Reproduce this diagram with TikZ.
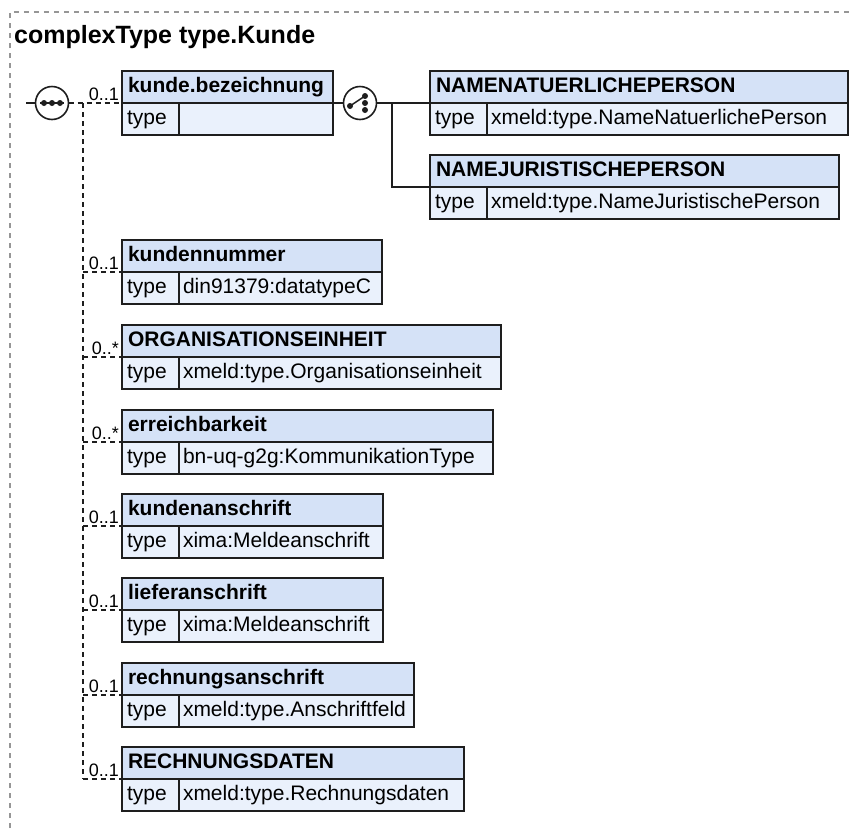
\documentclass[tikz,border=0pt]{standalone}
\usepackage{fontspec}
\setmainfont{Liberation Sans}
\usepackage{tikz}
\definecolor{xsdhead}{RGB}{213,226,247}
\definecolor{xsdrow}{RGB}{234,241,252}
\definecolor{xsdline}{RGB}{30,30,30}
\definecolor{framegray}{RGB}{150,150,150}
\newcommand{\elemfont}{\fontsize{21}{24}\selectfont}
\newcommand{\multfont}{\fontsize{18}{20}\selectfont}
\newcommand{\titlefont}{\fontsize{25}{28}\selectfont\bfseries}
\tikzset{
  cell/.style={rectangle, draw=xsdline, line width=1.6pt, anchor=north west,
    minimum height=32pt, inner ysep=0pt, outer sep=0pt, align=left,
    text height=15pt, text depth=4pt},
  elemhead/.style={cell, fill=xsdhead, inner xsep=6pt, font=\elemfont\bfseries},
  elemtype/.style={cell, fill=xsdrow, inner xsep=5pt, text width=47pt, font=\elemfont},
  elemvalue/.style={cell, fill=xsdrow, inner xsep=4pt, font=\elemfont},
  compositor/.style={circle, draw=xsdline, line width=1.6pt, fill=white,
    minimum size=33pt, inner sep=0pt, outer sep=0pt},
  mult/.style={anchor=base east, inner sep=0pt, font=\multfont},
  seqline/.style={draw=xsdline, line width=1.3pt, dash pattern=on 5pt off 4pt},
  choiceline/.style={draw=xsdline, line width=1.4pt},
  frameline/.style={draw=framegray, line width=1.2pt, dash pattern=on 5pt off 5pt},
}
\begin{document}
\begin{tikzpicture}[x=1pt, y=-1pt]
  \useasboundingbox (0,0) rectangle (853,828);

  %% frame and title
  \draw[frameline] (10,828) -- (10,12) -- (853,12);
  \node[anchor=base west, inner sep=0pt, font=\titlefont] (title) at (14,43)
    {complexType type.Kunde};

  %% sequence
  \coordinate (entry) at (26,103);
  \coordinate (spine) at (83,103);
  \node[compositor] (seq) at (52,103) {};
  \draw[line width=1.5pt, xsdline] ([xshift=-12pt]seq.center) -- ([xshift=12pt]seq.center);
  \fill[xsdline] ([xshift=-8pt]seq.center) circle (3pt) (seq.center) circle (3pt)
    ([xshift=8pt]seq.center) circle (3pt);
  \draw[choiceline] (entry) -- (seq.west);

  %% kunde.bezeichnung
  \node[elemhead, text width=199pt] (kbez) at (122,71) {kunde.bezeichnung};
  \node[elemtype] (kbezt) at (kbez.south west) {type};
  \node[elemvalue, text width=146pt] (kbezv) at (kbezt.north east) {};
  \node[mult] (kbezm) at ([shift={(-3,-3)}]kbez.south west) {0..1};

  %% choice
  \coordinate (fork) at (392,103);
  \node[compositor] (choice) at (360,103) {};
  \draw[line width=1.5pt, xsdline] ([shift={(-10,3)}]choice.center)
    -- ([shift={(5,-7)}]choice.center);
  \fill[xsdline] ([shift={(-10,3)}]choice.center) circle (3pt)
    ([shift={(5,-7)}]choice.center) circle (3pt)
    ([shift={(5,0)}]choice.center) circle (3pt)
    ([shift={(5,7)}]choice.center) circle (3pt);

  \node[elemhead, text width=406pt] (nnat) at (430,71) {NAMENATUERLICHEPERSON};
  \node[elemtype] (nnatt) at (nnat.south west) {type};
  \node[elemvalue, text width=353pt] (nnatv) at (nnatt.north east)
    {xmeld:type.NameNatuerlichePerson};

  \node[elemhead, text width=397pt] (njur) at (430,155) {NAMEJURISTISCHEPERSON};
  \node[elemtype] (njurt) at (njur.south west) {type};
  \node[elemvalue, text width=344pt] (njurv) at (njurt.north east)
    {xmeld:type.NameJuristischePerson};

  \draw[choiceline] (kbez.south east) -- (choice.west);
  \draw[choiceline] (choice.east) -- (nnat.south west);
  \draw[choiceline] (fork) |- (njur.south west);

  %% kundennummer
  \node[elemhead, text width=248pt] (knr) at (122,240) {kundennummer};
  \node[elemtype] (knrt) at (knr.south west) {type};
  \node[elemvalue, text width=195pt] (knrv) at (knrt.north east) {din91379:datatypeC};
  \node[mult] (knrm) at ([shift={(-3,-3)}]knr.south west) {0..1};

  %% ORGANISATIONSEINHEIT
  \node[elemhead, text width=367pt] (orga) at (122,325) {ORGANISATIONSEINHEIT};
  \node[elemtype] (orgat) at (orga.south west) {type};
  \node[elemvalue, text width=314pt] (orgav) at (orgat.north east)
    {xmeld:type.Organisationseinheit};
  \node[mult] (orgam) at ([shift={(-3,-3)}]orga.south west) {0..*};

  %% erreichbarkeit
  \node[elemhead, text width=359pt] (erre) at (122,410) {erreichbarkeit};
  \node[elemtype] (erret) at (erre.south west) {type};
  \node[elemvalue, text width=306pt] (errev) at (erret.north east)
    {bn-uq-g2g:KommunikationType};
  \node[mult] (errem) at ([shift={(-3,-3)}]erre.south west) {0..*};

  %% kundenanschrift
  \node[elemhead, text width=249pt] (kans) at (122,494) {kundenanschrift};
  \node[elemtype] (kanst) at (kans.south west) {type};
  \node[elemvalue, text width=196pt] (kansv) at (kanst.north east) {xima:Meldeanschrift};
  \node[mult] (kansm) at ([shift={(-3,-3)}]kans.south west) {0..1};

  %% lieferanschrift
  \node[elemhead, text width=249pt] (lans) at (122,578) {lieferanschrift};
  \node[elemtype] (lanst) at (lans.south west) {type};
  \node[elemvalue, text width=196pt] (lansv) at (lanst.north east) {xima:Meldeanschrift};
  \node[mult] (lansm) at ([shift={(-3,-3)}]lans.south west) {0..1};

  %% rechnungsanschrift
  \node[elemhead, text width=280pt] (rans) at (122,663) {rechnungsanschrift};
  \node[elemtype] (ranst) at (rans.south west) {type};
  \node[elemvalue, text width=227pt] (ransv) at (ranst.north east)
    {xmeld:type.Anschriftfeld};
  \node[mult] (ransm) at ([shift={(-3,-3)}]rans.south west) {0..1};

  %% RECHNUNGSDATEN
  \node[elemhead, text width=330pt] (rdat) at (122,747) {RECHNUNGSDATEN};
  \node[elemtype] (rdatt) at (rdat.south west) {type};
  \node[elemvalue, text width=277pt] (rdatv) at (rdatt.north east)
    {xmeld:type.Rechnungsdaten};
  \node[mult] (rdatm) at ([shift={(-3,-3)}]rdat.south west) {0..1};

  %% sequence connectors
  \draw[seqline] (seq.east) -- (kbez.south west);
  \draw[seqline] (spine) -- (spine |- rdat.south west);
  \draw[seqline] (spine |- knr.south west) -- (knr.south west);
  \draw[seqline] (spine |- orga.south west) -- (orga.south west);
  \draw[seqline] (spine |- erre.south west) -- (erre.south west);
  \draw[seqline] (spine |- kans.south west) -- (kans.south west);
  \draw[seqline] (spine |- lans.south west) -- (lans.south west);
  \draw[seqline] (spine |- rans.south west) -- (rans.south west);
  \draw[seqline] (spine |- rdat.south west) -- (rdat.south west);

\end{tikzpicture}
\end{document}
